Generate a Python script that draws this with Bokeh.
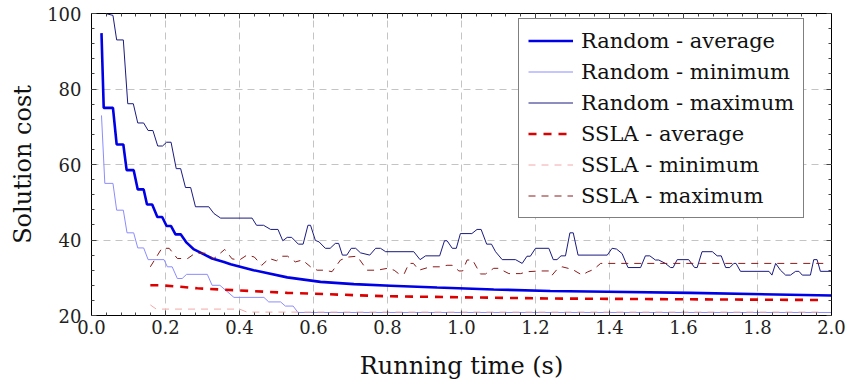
from bokeh.plotting import figure
from bokeh.models import (Range1d, SingleIntervalTicker, PrintfTickFormatter,
                          LinearAxis, Legend, LegendItem)
from bokeh.embed import file_html
from bokeh.resources import INLINE

# Running time (s) and solution cost for each series (vertices of the traces)
rand_avg_t = [0.027, 0.033, 0.058, 0.068, 0.086, 0.095, 0.114, 0.125, 0.141, 0.150,
              0.164, 0.178, 0.191, 0.203, 0.215, 0.227, 0.241, 0.257, 0.277, 0.304,
              0.326, 0.358, 0.376, 0.438, 0.529, 0.619, 0.709, 0.808, 0.934, 1.087,
              1.240, 1.394, 1.619, 2.000]
rand_avg_v = [94.8, 75.0, 75.0, 65.3, 65.3, 58.5, 58.5, 53.4, 53.4, 49.4,
              49.4, 46.1, 46.1, 43.7, 43.7, 41.5, 41.5, 39.3, 37.5, 36.2,
              35.1, 34.2, 33.6, 32.0, 30.1, 28.9, 28.3, 27.9, 27.4, 26.9,
              26.5, 26.3, 26.0, 25.3]

rand_min_t = [0.027, 0.036, 0.058, 0.068, 0.086, 0.096, 0.114, 0.125, 0.141, 0.153,
              0.196, 0.205, 0.218, 0.232, 0.245, 0.257, 0.313, 0.326, 0.347, 0.385,
              0.466, 0.479, 0.511, 0.524, 0.545, 0.558, 2.000]
rand_min_v = [73.0, 55.0, 55.0, 47.9, 47.9, 41.9, 41.9, 37.9, 37.9, 34.8,
              34.8, 32.9, 32.9, 29.8, 29.8, 30.9, 30.9, 28.0, 28.0, 24.8,
              24.8, 23.6, 23.6, 22.5, 22.5, 20.8, 20.8]

rand_max_t = [0.038, 0.058, 0.068, 0.086, 0.098, 0.113, 0.125, 0.141, 0.153, 0.166,
              0.179, 0.192, 0.203, 0.215, 0.229, 0.241, 0.254, 0.268, 0.281, 0.317,
              0.331, 0.349, 0.434, 0.446, 0.465, 0.484, 0.504, 0.517, 0.529, 0.541,
              0.559, 0.572, 0.585, 0.592, 0.605, 0.615, 0.632, 0.645, 0.659, 0.668,
              0.678, 0.690, 0.702, 0.714, 0.727, 0.752, 0.768, 0.781, 0.795, 0.871,
              0.888, 0.903, 0.941, 0.954, 0.961, 0.975, 0.986, 0.997, 1.028, 1.042,
              1.053, 1.068, 1.081, 1.092, 1.110, 1.146, 1.164, 1.177, 1.186, 1.200,
              1.236, 1.248, 1.258, 1.269, 1.281, 1.293, 1.302, 1.315, 1.394, 1.407,
              1.419, 1.434, 1.450, 1.484, 1.497, 1.509, 1.524, 1.533, 1.551, 1.565,
              1.572, 1.583, 1.614, 1.630, 1.637, 1.650, 1.678, 1.691, 1.702, 1.714,
              1.725, 1.736, 1.742, 1.754, 1.831, 1.839, 1.849, 1.862, 1.876, 1.889,
              1.903, 1.912, 1.921, 1.943, 1.952, 1.961, 1.970, 2.000]
rand_max_v = [100.0, 99.5, 93.0, 93.0, 76.1, 76.1, 71.0, 71.0, 69.0, 69.0,
              64.9, 64.9, 65.9, 65.9, 58.9, 58.9, 53.9, 53.9, 48.8, 48.8,
              47.0, 45.8, 45.8, 43.9, 43.9, 42.8, 42.8, 39.8, 40.7, 40.7,
              38.9, 38.9, 43.9, 43.9, 39.9, 39.5, 37.8, 37.8, 39.1, 39.1,
              36.0, 36.0, 37.8, 37.8, 36.6, 36.0, 37.8, 37.8, 36.9, 36.9,
              34.8, 35.8, 35.8, 39.8, 39.8, 37.8, 37.8, 41.7, 41.7, 42.8,
              42.8, 38.9, 38.9, 36.9, 34.8, 34.8, 33.8, 35.7, 35.7, 37.8,
              37.8, 34.8, 34.8, 35.8, 35.8, 41.9, 41.9, 36.0, 36.0, 37.8,
              37.6, 36.4, 32.7, 32.7, 35.8, 35.8, 34.7, 34.7, 33.8, 32.7,
              32.7, 34.8, 34.8, 32.7, 32.7, 36.9, 36.9, 35.8, 35.8, 32.7,
              32.7, 33.8, 33.8, 31.7, 31.7, 30.7, 33.8, 32.0, 30.7, 30.7,
              31.7, 31.7, 30.7, 30.7, 34.8, 34.8, 31.7, 31.7]

ssla_avg_t = [0.159, 0.190, 0.241, 0.286, 0.349, 0.529, 0.799, 1.240, 1.600, 1.980]
ssla_avg_v = [28.0, 28.0, 27.6, 27.2, 26.9, 26.0, 25.1, 24.5, 24.3, 24.1]

ssla_min_t = [0.159, 0.175, 0.400, 0.420, 1.980]
ssla_min_v = [22.8, 21.7, 21.7, 20.9, 20.9]

ssla_max_t = [0.159, 0.190, 0.210, 0.232, 0.260, 0.280, 0.310, 0.330, 0.360, 0.380,
              0.400, 0.420, 0.440, 0.460, 0.480, 0.500, 0.515, 0.530, 0.551, 0.570,
              0.592, 0.610, 0.630, 0.650, 0.673, 0.695, 0.718, 0.745, 0.772, 0.800,
              0.818, 0.831, 0.845, 0.858, 0.870, 0.885, 0.916, 0.940, 0.961, 0.975,
              0.993, 1.003, 1.015, 1.030, 1.051, 1.065, 1.087, 1.100, 1.128, 1.160,
              1.177, 1.214, 1.240, 1.245, 1.258, 1.272, 1.300, 1.326, 1.340, 1.357,
              1.376, 1.980]
ssla_max_v = [32.9, 37.8, 37.8, 35.1, 35.1, 36.5, 36.5, 35.0, 37.5, 35.0,
              34.7, 36.0, 35.5, 33.3, 35.1, 34.5, 35.7, 35.7, 34.2, 34.7,
              32.9, 32.0, 32.0, 31.6, 34.7, 35.5, 35.7, 32.0, 32.0, 32.5,
              32.0, 31.0, 31.0, 33.8, 33.8, 32.0, 32.9, 32.9, 33.3, 33.3,
              31.8, 31.8, 34.7, 34.7, 31.0, 31.0, 32.5, 32.5, 31.1, 31.1,
              31.6, 31.8, 31.8, 30.7, 32.2, 32.9, 32.2, 30.7, 31.5, 32.2,
              33.8, 33.8]

FONT = "DejaVu Serif"

p = figure(frame_width=740, frame_height=302,
           min_border_left=91, min_border_right=15,
           min_border_top=13, min_border_bottom=72,
           x_range=Range1d(0, 2), y_range=Range1d(20, 100),
           output_backend="svg", toolbar_location=None,
           background_fill_color="white", border_fill_color="white")

p.outline_line_color = "black"
p.outline_line_width = 1

xt = SingleIntervalTicker(interval=0.2, num_minor_ticks=5)
yt = SingleIntervalTicker(interval=20, num_minor_ticks=5)
p.xaxis.ticker = xt
p.yaxis.ticker = yt
p.xaxis.formatter = PrintfTickFormatter(format="%.1f")
p.xgrid.ticker = xt
p.ygrid.ticker = yt

for g in (p.xgrid, p.ygrid):
    g.grid_line_color = "#c4c4c4"
    g.grid_line_dash = "7 5"
    g.grid_line_width = 1

for ax in (p.xaxis, p.yaxis):
    ax.major_tick_in = 5
    ax.major_tick_out = 0
    ax.minor_tick_in = 3
    ax.minor_tick_out = 0
    ax.axis_line_color = "black"
    ax.major_tick_line_color = "#444444"
    ax.minor_tick_line_color = "#444444"
    ax.major_label_text_font = FONT
    ax.major_label_text_font_size = "18px"
    ax.major_label_text_color = "#222222"
    ax.axis_label_text_font = FONT
    ax.axis_label_text_font_style = "normal"
    ax.axis_label_text_font_size = "24px"
    ax.axis_label_text_color = "#111111"

p.xaxis.axis_label = "Running time (s)"
p.yaxis.axis_label = "Solution cost"
p.xaxis.major_label_standoff = 4
p.yaxis.major_label_standoff = 10
p.xaxis.axis_label_standoff = 15
p.yaxis.axis_label_standoff = 7

# mirrored tick marks on the top and right edges of the frame
top = LinearAxis(ticker=xt, major_label_text_color=None, major_label_text_font_size="0px",
                 major_tick_in=5, major_tick_out=0, minor_tick_in=3, minor_tick_out=0,
                 axis_line_color="black", major_tick_line_color="#444444",
                 minor_tick_line_color="#444444", major_label_standoff=0)
right = LinearAxis(ticker=yt, major_label_text_color=None, major_label_text_font_size="0px",
                   major_tick_in=5, major_tick_out=0, minor_tick_in=3, minor_tick_out=0,
                   axis_line_color="black", major_tick_line_color="#444444",
                   minor_tick_line_color="#444444", major_label_standoff=0)
p.add_layout(top, "above")
p.add_layout(right, "right")

r_avg = p.line(rand_avg_t, rand_avg_v, line_color="#0000e6", line_width=2.6)
r_min = p.line(rand_min_t, rand_min_v, line_color="#8c8cff", line_width=1)
r_max = p.line(rand_max_t, rand_max_v, line_color="#1a1a80", line_width=1)
s_avg = p.line(ssla_avg_t, ssla_avg_v, line_color="#dd0000", line_width=2.6,
               line_dash="8 7")
s_min = p.line(ssla_min_t, ssla_min_v, line_color="#f4a8a8", line_width=1,
               line_dash="7 6")
s_max = p.line(ssla_max_t, ssla_max_v, line_color="#8a1a1a", line_width=1,
               line_dash="7 6")

legend = Legend(items=[
    LegendItem(label="Random - average", renderers=[r_avg]),
    LegendItem(label="Random - minimum", renderers=[r_min]),
    LegendItem(label="Random - maximum", renderers=[r_max]),
    LegendItem(label="SSLA - average", renderers=[s_avg]),
    LegendItem(label="SSLA - minimum", renderers=[s_min]),
    LegendItem(label="SSLA - maximum", renderers=[s_max]),
], location=(427, 97))
legend.label_text_font = FONT
legend.label_text_font_size = "21px"
legend.label_text_color = "#111111"
legend.glyph_width = 45
legend.glyph_height = 25
legend.label_height = 25
legend.label_standoff = 8
legend.spacing = 6
legend.padding = 9
legend.margin = 0
legend.border_line_color = "black"
legend.border_line_width = 1
legend.background_fill_alpha = 1.0
p.add_layout(legend, "center")

open("out.html", "w").write(file_html(p, INLINE))
